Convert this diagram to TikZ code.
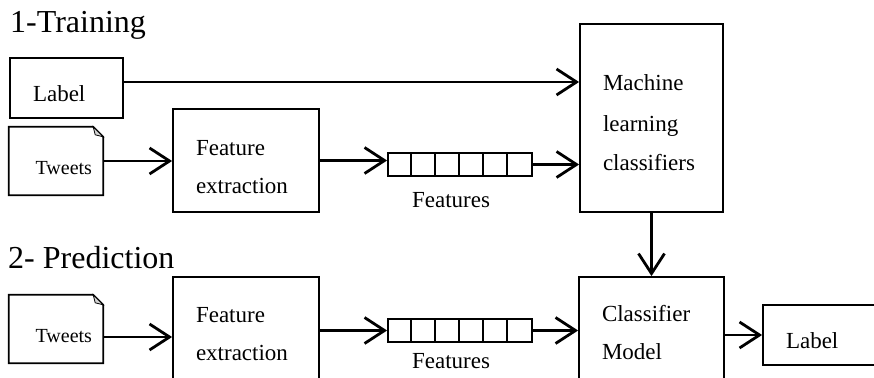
\documentclass[tikz,border=0pt]{standalone}
\usepackage{fontspec}
\setmainfont{Liberation Serif}
\usetikzlibrary{arrows.meta}

\newcommand{\boxfont}{\fontsize{23}{38}\selectfont}
\newcommand{\tweetdoc}[1]{%
  \draw[line width=1.8pt] (#1.south west) -- (#1.north west) -- ([xshift=-10pt]#1.north east)
     -- ([yshift=-10pt]#1.north east) -- (#1.south east) -- cycle;
  \draw[line width=0.8pt, fill=gray!35] ([xshift=-10pt]#1.north east) -- ([xshift=-8pt,yshift=-8pt]#1.north east)
     -- ([yshift=-10pt]#1.north east) -- cycle;}

\begin{document}
\begin{tikzpicture}[x=1pt, y=-1pt,
    box/.style={draw, line width=1.8pt, inner sep=0pt, text depth=0pt, font=\boxfont},
    doc/.style={minimum width=94, minimum height=68, inner sep=0pt, text depth=0pt,
                text width=72, align=right, font=\fontsize{20}{24}\selectfont},
    ftr/.style={draw, line width=1.8pt, minimum width=144, minimum height=23, inner sep=0pt},
    arr/.style={-{Straight Barb[length=20pt,width=26pt]}, line width=2.8pt},
    title/.style={anchor=base west, inner sep=0pt, font=\fontsize{32}{38}\selectfont}]
        \useasboundingbox (0,0) rectangle (874,377);
        \clip (0,0) rectangle (874,377);
        % 1 - training
        \node[title] (t1) at (10,33) {1-Training};
        \node[box, minimum width=113, minimum height=60, text width=67, align=left, text height=28] (lbl1) at (66.5,88) {Label};
        \node[doc, text height=26] (tw1) at (56,161) {Tweets};
        \tweetdoc{tw1}
        \node[box, minimum width=146, minimum height=103, text width=100, align=left, text height=20, text depth=31] (fe1) at (246,160.5) {Feature\\extraction};
        \node[ftr] (f1) at (460,164.5) {};
        \node[anchor=base, font=\boxfont] (fl1) at (451,207) {Features};
        \node[box, minimum width=143, minimum height=188, text width=97, align=left, text height=20, text depth=74,
              font=\fontsize{23}{40}\selectfont] (ml) at (651.5,118) {Machine\\learning\\classifiers};
        % 2 - prediction
        \node[title] (t2) at (8,268) {2- Prediction};
        \node[doc, text height=26] (tw2) at (56,329) {Tweets};
        \tweetdoc{tw2}
        \node[box, minimum width=146, minimum height=103, text width=100, align=left, text height=20, text depth=33] (fe2) at (246,328.5) {Feature\\extraction};
        \node[ftr] (f2) at (460,330.5) {};
        \node[anchor=base, font=\boxfont] (fl2) at (451,368) {Features};
        \node[box, minimum width=145, minimum height=103, text width=99, align=left, text height=20, text depth=35] (cm) at (651.5,328.5) {Classifier\\Model};
        \node[box, minimum width=113, minimum height=60, text width=67, align=left, text height=26] (lbl2) at (819.5,335) {Label};
        % feature cells
        \foreach \s in {f1,f2}
            \foreach \i in {1,...,5}
                \draw[line width=1.8pt] ([xshift=\i*24]\s.north west) -- ([xshift=\i*24]\s.south west);
        % arrows
        \draw[arr] ([yshift=6]lbl1.east) coordinate (a1) -- (a1 -| ml.west);
        \draw[arr] (tw1.east) -- (tw1.east -| fe1.west);
        \draw[arr] (fe1.east) -- (fe1.east -| f1.west);
        \draw[arr] (f1.east) -- (f1.east -| ml.west);
        \draw[arr] (ml.south) -- (cm.north);
        \draw[arr] ([yshift=-8]tw2.east) coordinate (a2) -- (a2 -| fe2.west);
        \draw[arr] (fe2.east |- f2.west) -- (f2.west);
        \draw[arr] (f2.east) -- (f2.east -| cm.west);
        \draw[arr] (cm.east |- lbl2.west) -- (lbl2.west);
\end{tikzpicture}
\end{document}
